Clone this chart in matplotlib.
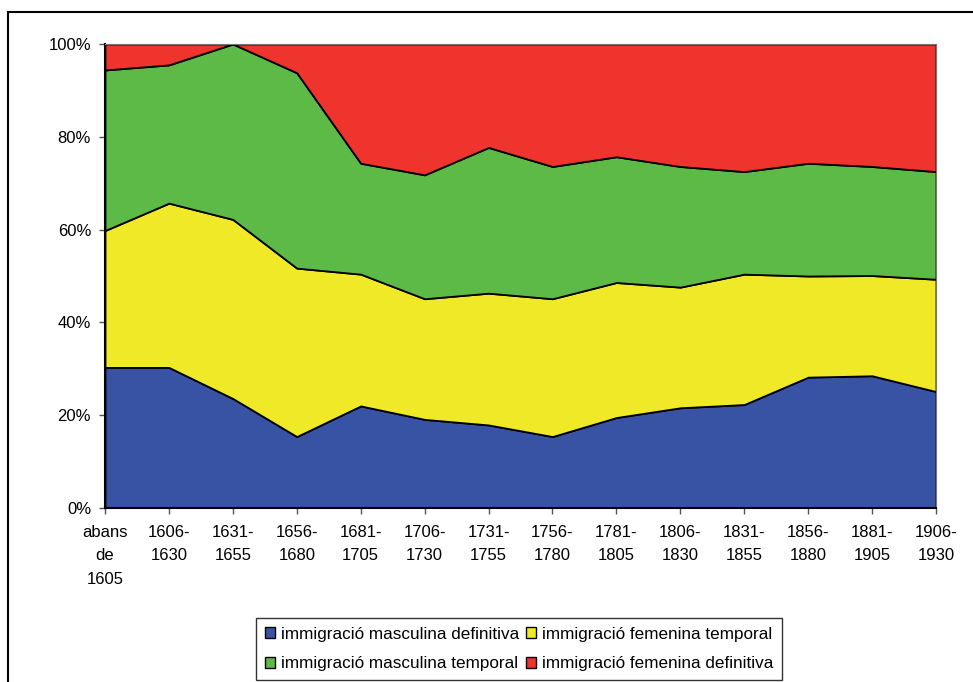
import numpy as np
import matplotlib
matplotlib.use("Agg")
import matplotlib.pyplot as plt
from matplotlib.patches import Rectangle, Patch

plt.rcParams['font.family'] = ['Liberation Sans', 'DejaVu Sans']

periods = ["abans\nde\n1605", "1606-\n1630", "1631-\n1655", "1656-\n1680", "1681-\n1705",
           "1706-\n1730", "1731-\n1755", "1756-\n1780", "1781-\n1805", "1806-\n1830",
           "1831-\n1855", "1856-\n1880", "1881-\n1905", "1906-\n1930"]

masc_def = [30.3, 30.3, 23.6, 15.4, 22.0, 19.1, 17.9, 15.4, 19.5, 21.6, 22.3, 28.2, 28.5, 25.1]
fem_temp = [29.5, 35.4, 38.6, 36.3, 28.4, 26.0, 28.4, 29.7, 29.1, 26.0, 28.1, 21.8, 21.6, 24.2]
masc_temp = [34.6, 29.8, 37.8, 42.1, 23.9, 26.7, 31.4, 28.5, 27.1, 26.0, 22.1, 24.3, 23.5, 23.2]
fem_def = [5.6, 4.5, 0.0, 6.2, 25.7, 28.2, 22.3, 26.4, 24.3, 26.4, 27.5, 25.7, 26.4, 27.5]

names = ["immigració masculina definitiva", "immigració femenina temporal",
         "immigració masculina temporal", "immigració femenina definitiva"]
colors = ["#3953a4", "#f0e927", "#5eba47", "#ee342c"]

W, H = 973, 682
fig = plt.figure(figsize=(W / 100, H / 100), dpi=100)
ax = fig.add_axes([105 / W, 1 - 508 / H, (936 - 105) / W, (508 - 44) / H])

series = np.array([masc_def, fem_temp, masc_temp, fem_def])
series = series / series.sum(axis=0) * 100
x = np.arange(len(periods))
ax.stackplot(x, series, colors=colors, edgecolor="black", linewidth=1.3)

ax.set_xlim(0, len(periods) - 1)
ax.set_ylim(0, 100)
ax.set_yticks([0, 20, 40, 60, 80, 100])
ax.set_yticklabels(["0%", "20%", "40%", "60%", "80%", "100%"])
ax.set_xticks(x)
ax.set_xticklabels(periods, linespacing=1.72)
ax.tick_params(axis="both", labelsize=12, length=4, width=1, color="#555555", direction="out")
ax.tick_params(axis="x", pad=8)
ax.tick_params(axis="y", pad=6)
for s in ["left", "bottom"]:
    ax.spines[s].set_linewidth(1.5)
    ax.spines[s].set_color("black")
for s in ["top", "right"]:
    ax.spines[s].set_linewidth(0.8)
    ax.spines[s].set_color("#777777")

handles = [Patch(facecolor=c, edgecolor="black", linewidth=1) for c in colors]
order = [0, 2, 1, 3]
leg = fig.legend([handles[i] for i in order], [names[i] for i in order], ncol=2,
                 loc="center", bbox_to_anchor=(519 / W, 1 - 649 / H),
                 fontsize=12.3, frameon=True, fancybox=False, edgecolor="black",
                 handlelength=0.6, handleheight=0.6, handletextpad=0.35,
                 columnspacing=0.4, labelspacing=0.85, borderpad=0.5)
leg.get_frame().set_linewidth(1.0)

# outer chart frame
fig.add_artist(Rectangle((8 / W, -0.05), (1100 - 8) / W, 1.05 - 12 / H,
                         transform=fig.transFigure, fill=False,
                         edgecolor="black", linewidth=1.5))

fig.savefig("out.png", dpi=100)
